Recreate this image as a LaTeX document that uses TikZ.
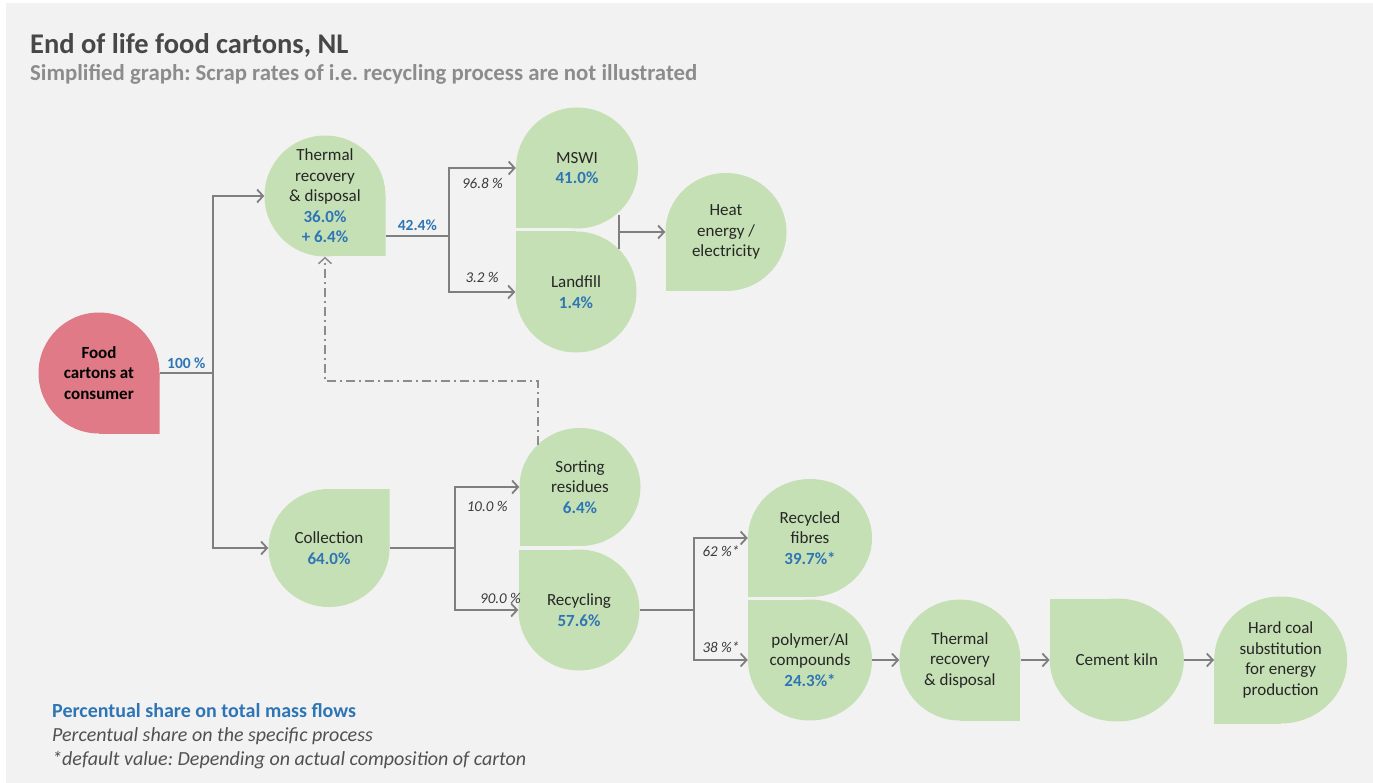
\documentclass[tikz,border=0pt]{standalone}
\usepackage{fontspec}
\setmainfont{Carlito}
\usetikzlibrary{arrows.meta,calc,positioning}

\definecolor{paper}{HTML}{F2F2F2}
\definecolor{leaf}{HTML}{C5E0B4}
\definecolor{rose}{HTML}{DF7A86}
\definecolor{share}{HTML}{2E75B6}
\definecolor{pipe}{HTML}{7F7F7F}
\definecolor{ink}{HTML}{262626}

\newcommand{\pct}[1]{\textcolor{share}{\bfseries #1}}
\frenchspacing

\begin{document}
\begin{tikzpicture}[
    x = 1pt, y = -1pt, % pixel grid, y pointing down
    > = {Straight Barb[length=6pt,width=13pt]}, % open arrow head
    flow/.style = {pipe, line width=1.8pt},
    backflow/.style = {pipe!90, line width=1.5pt, dash pattern=on 9pt off 4pt on 2pt off 4pt},
    drop/.style 2 args = {% circle with one square corner
        minimum width=121pt, minimum height=121pt, inner sep=0pt,
        align=center, text=ink, font=\fontsize{17}{20.5}\selectfont,
        path picture={
            \fill[#1] let \p1 = (path picture bounding box.north east),
                \p2 = (path picture bounding box.south west) in
                (path picture bounding box.center)
                ellipse [x radius={(\x1-\x2)/2}, y radius={(\y1-\y2)/2}];
            \fill[#1] (path picture bounding box.center) rectangle (path picture bounding box.#2);
        }},
    rate/.style = {font=\fontsize{15}{17}\selectfont\itshape, text=ink!90, inner sep=1pt},
    total/.style = {font=\fontsize{15.5}{17}\selectfont\bfseries, text=share, inner sep=1pt},
    caption/.style = {anchor=base west, inner sep=0pt}
    ]

    % page
    \fill[white] (0,0) rectangle (1373,783);
    \fill[paper] (6,3) rectangle (1373,783);
    \useasboundingbox (0,0) rectangle (1373,783);

    \node[caption, font=\fontsize{28.5}{32}\selectfont\bfseries, text=ink!85] (title) at (30,54)
        {End of life food cartons, NL};
    \node[caption, font=\fontsize{22.8}{26}\selectfont\bfseries, text=pipe!90] (subtitle) at (30,81)
        {Simplified graph: Scrap rates of i.e. recycling process are not illustrated};

    % processes
    \node[drop={rose}{south east}, text=black, font=\fontsize{17}{20.5}\selectfont\bfseries] (food) at (99,373)
        {Food\\cartons at\\consumer};
    \node[drop={leaf}{south east}] (therm) at (325,196)
        {Thermal\\recovery\\\& disposal\\\pct{36.0\%}\\\pct{+ 6.4\%}};
    \node[drop={leaf}{south west}, minimum width=122pt] (mswi) at (577,168) {MSWI\\\pct{41.0\%}};
    \node[drop={leaf}{north west}] (landfill) at (576,292) {Landfill\\\pct{1.4\%}};
    \node[drop={leaf}{south west}, minimum height=118pt] (heat) at (726,232) {Heat\\energy /\\electricity};
    \node[drop={leaf}{north east}, minimum height=118pt] (collect) at (329,548) {Collection\\\pct{64.0\%}};
    \node[drop={leaf}{south west}, minimum height=118pt] (sorting) at (580,487) {Sorting\\residues\\\pct{6.4\%}};
    \node[drop={leaf}{north west}] (recycling) at (579,610) {Recycling\\\pct{57.6\%}};
    \node[drop={leaf}{south west}, minimum width=124pt, minimum height=118pt] (fibres) at (810,538)
        {Recycled\\fibres\\\pct{39.7\%*}};
    \node[drop={leaf}{north west}, minimum width=124pt] (polymer) at (810,660)
        {polymer/Al\\compounds\\\pct{24.3\%*}};
    \node[drop={leaf}{south east}, right=27pt of polymer] (therm2) {Thermal\\recovery\\\& disposal};
    \node[drop={leaf}{north west}, minimum width=134pt, minimum height=123pt, right=29pt of therm2] (kiln)
        {Cement kiln};
    \node[drop={leaf}{south west}, minimum width=133pt, minimum height=127pt, right=30pt of kiln] (coal)
        {Hard coal\\substitution\\for energy\\production};

    % consumer
    \coordinate (s1) at (213,373);
    \draw[flow] (food.east) -- node[total, above=2pt] {100 \%} (s1);
    \draw[flow,->] (s1) |- (therm.west);
    \draw[flow,->] (s1) |- (collect.west);

    % thermal route
    \coordinate (s2) at (449,236);
    \draw[flow] ([yshift=-40pt]therm.east) -- node[total, above=3pt] {42.4\%} (s2);
    \draw[flow,->] (s2) |- node[rate, pos=0.75, below=8pt] {96.8 \%} (mswi.west);
    \draw[flow,->] (s2) |- node[rate, pos=0.75, above=7pt] {3.2 \%} (landfill.west);
    \draw[flow] ([xshift=-19pt,yshift=14pt]mswi.south east)
        -- ([xshift=-17.5pt,yshift=-18pt]landfill.north east) coordinate[midway] (j);
    \draw[flow,->] (j) -- (j -| heat.west);

    % collection route
    \coordinate (s3) at (455,548);
    \draw[flow] (collect.east) -- (s3);
    \draw[flow,->] (s3) |- node[rate, pos=0.75, below=12pt] {10.0 \%} (sorting.west);
    \draw[flow,->] (s3) |- node[rate, pos=0.86, above=4pt] {90.0 \%} (recycling.west);

    \coordinate (s4) at (694,610);
    \draw[flow] (recycling.east) -- (s4);
    \draw[flow,->] (s4) |- node[rate, pos=0.75, below=6pt] {62 \%*} (fibres.west);
    \draw[flow,->] (s4) |- node[rate, pos=0.75, above=5pt] {38 \%*} (polymer.west);

    \draw[flow,->] (polymer) -- (therm2);
    \draw[flow,->] (therm2) -- (kiln);
    \draw[flow,->] (kiln) -- (coal);

    % residues back to thermal recovery
    \draw[backflow,->] ([xshift=-42pt,yshift=-17pt]sorting.north) -- ++(0,-64) -| (therm.south);

    % legend
    \node[caption, font=\fontsize{20}{24}\selectfont\bfseries, text=share] (key1) at (52,717)
        {Percentual share on total mass flows};
    \node[caption, font=\fontsize{20}{24}\selectfont\itshape, text=ink!80] (key2) at (52,741)
        {Percentual share on the specific process};
    \node[caption, font=\fontsize{20}{24}\selectfont\itshape, text=ink!80] (key3) at (52,765)
        {*default value: Depending on actual composition of carton};
\end{tikzpicture}
\end{document}
